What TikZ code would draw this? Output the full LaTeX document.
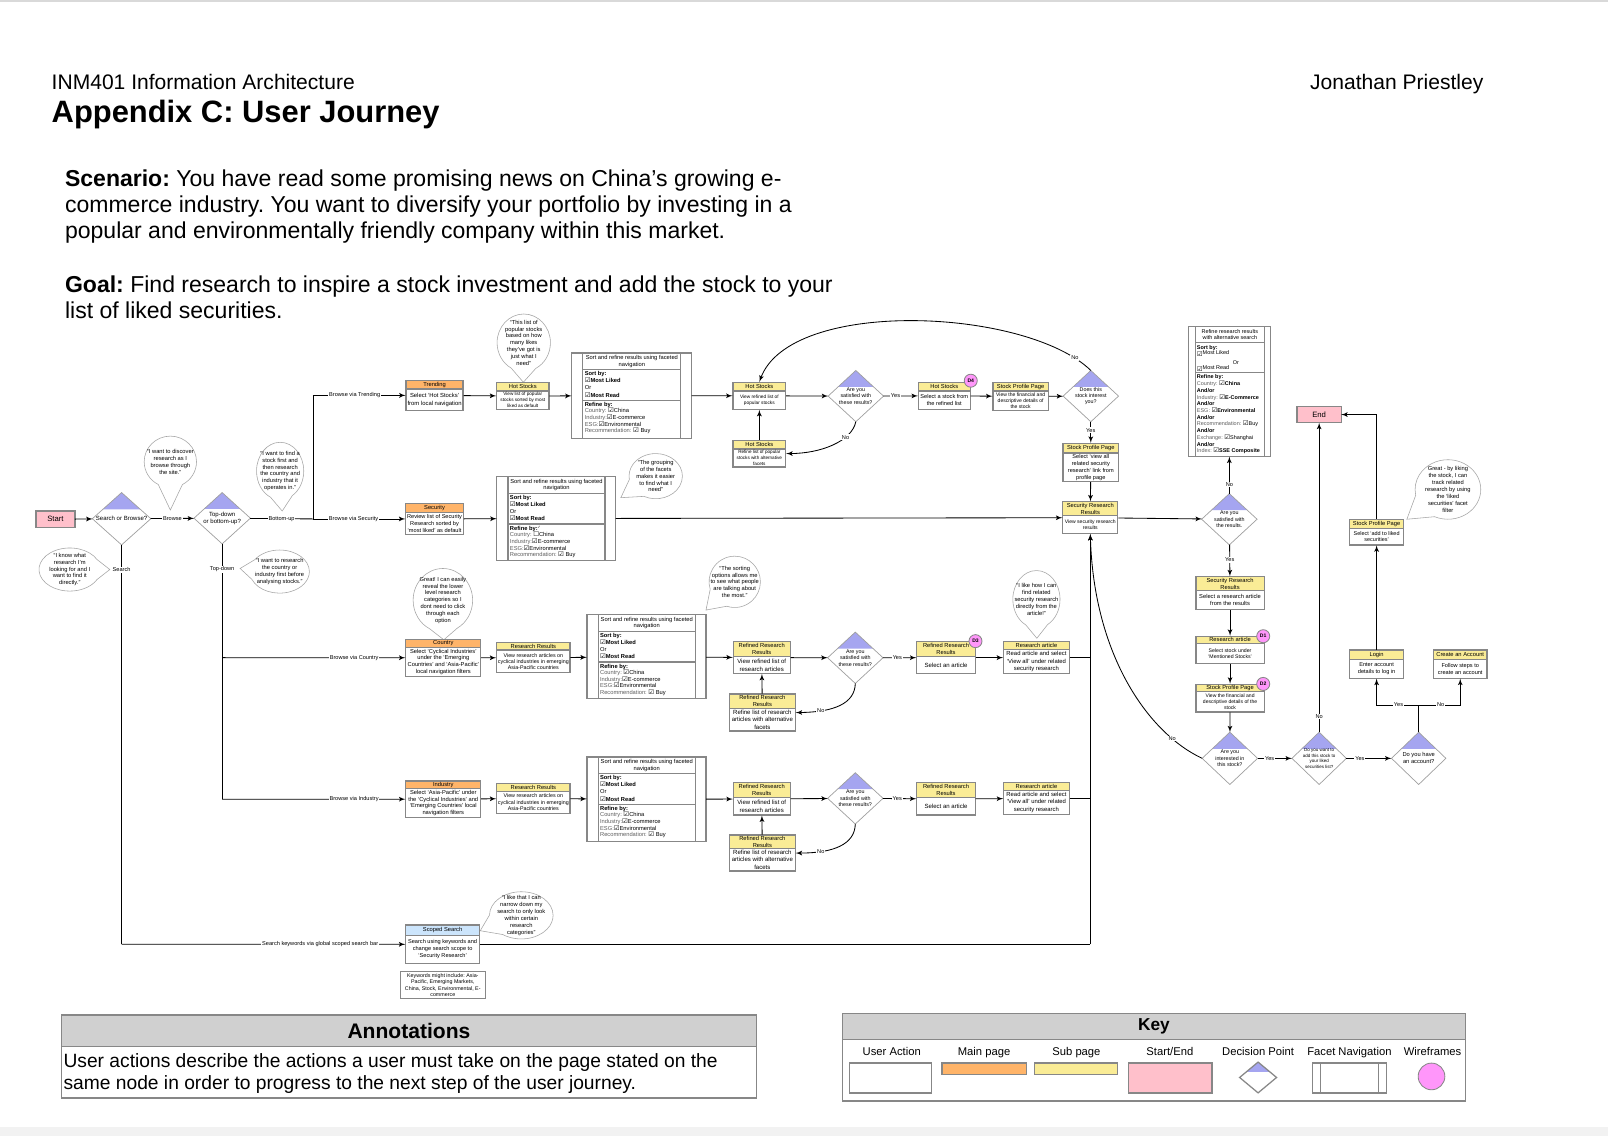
\documentclass[tikz,border=0pt]{standalone}
\usepackage{fontspec}
\setmainfont{Liberation Sans}
\newfontfamily\symfont{DejaVu Sans}
\usetikzlibrary{arrows,fit,positioning,calc,shapes.geometric,shapes.callouts}
\frenchspacing

\definecolor{mainpage}{RGB}{255,180,105}
\definecolor{subpage}{RGB}{250,236,150}
\definecolor{startend}{RGB}{255,192,203}
\definecolor{decblue}{RGB}{165,165,240}
\definecolor{wire}{RGB}{255,150,250}
\definecolor{scoped}{RGB}{204,229,252}
\definecolor{keygray}{RGB}{208,208,208}
\definecolor{edgegray}{RGB}{135,135,135}
\definecolor{labelgray}{RGB}{95,95,95}

\newcommand{\un}{0.0257cm}
\newcommand{\fs}[2]{\fontsize{#1}{#2}\selectfont}
\newcommand{\cb}{{\symfont\fs{4.6}{4.6}☑}}
\newcommand{\ub}{{\symfont\fs{4.6}{4.6}☐}}
\newcommand{\tk}{\raisebox{1.5pt}{\symfont\fs{2.6}{2.6}✓}}
\newcommand{\nk}{}
\newcommand{\flab}[1]{{\color{labelgray}#1}}

% page node: coloured page strip on top of the user action box
\newcommand{\pagebox}[9]{%
  \node[hdr, fill=#4, minimum width=#3*\un, minimum height=#5*\un, anchor=north] (#1h) at #2 {#6};
  \node[act, font=#8, minimum width=#3*\un, minimum height=#7*\un, below=0pt of #1h] (#1b) {#9};
  \node[fit=(#1h)(#1b), inner sep=0pt] (#1) {};
}

\tikzset{
    %Define standard arrow tip
    >=latex',
    %Define style for boxes
    hdr/.style={
           rectangle,
           draw=edgegray, line width=0.9pt,
           inner sep=0pt, outer sep=0pt,
           align=center,
           font=\fs{4.1}{5}},
    act/.style={
           rectangle,
           draw=edgegray, line width=0.9pt,
           fill=white,
           inner sep=0pt, outer sep=0pt,
           align=center},
    startend/.style={
           rectangle,
           draw=edgegray, line width=0.9pt,
           fill=startend,
           inner sep=0pt, outer sep=0pt,
           font=\fs{5.5}{6}},
    decision/.style={
           diamond,
           draw=edgegray!80, line width=0.5pt,
           fill=white,
           inner sep=0pt, outer sep=0pt,
           path picture={\fill[decblue] (path picture bounding box.north)
              -- ($(path picture bounding box.north)!0.64!(path picture bounding box.west)$)
              -- ($(path picture bounding box.north)!0.64!(path picture bounding box.east)$) -- cycle;}},
    dtxt/.style={align=center, inner sep=0pt, font=\fs{3.8}{4.6}},
    facet/.style={
           rectangle,
           draw=edgegray, line width=0.9pt,
           fill=white,
           inner sep=0pt, outer sep=0pt},
    fline/.style={draw=edgegray, line width=0.9pt},
    ftitle/.style={align=center, inner sep=0pt, font=\fs{4.1}{4.9}},
    ftxt/.style={anchor=north west, align=left, inner sep=0pt, font=\fs{4.1}{4.7}},
    thought/.style={
           ellipse callout,
           draw=edgegray!75, line width=0.4pt,
           fill=white,
           inner sep=0pt,
           callout pointer arc=55},
    btxt/.style={align=center, inner sep=0pt, font=\fs{4.1}{4.9}},
    wf/.style={
           circle,
           draw=edgegray, line width=0.6pt,
           fill=wire,
           inner sep=0pt,
           minimum size=12.7*\un,
           font=\bfseries\fs{3.6}{4}},
    note/.style={
           rectangle,
           draw=edgegray, line width=0.7pt,
           fill=white,
           inner sep=0pt,
           align=center,
           font=\fs{3.8}{4.6}},
    keyhead/.style={
           rectangle,
           draw=edgegray, line width=0.9pt,
           fill=keygray,
           inner sep=0pt, outer sep=0pt},
    keybody/.style={
           rectangle,
           draw=edgegray, line width=0.9pt,
           fill=white,
           inner sep=0pt, outer sep=0pt},
    keylbl/.style={anchor=base, inner sep=0pt, font=\fs{8}{9.5}},
    % Define label style on connectors
    lbl/.style={fill=white, inner sep=0.6pt, font=\fs{4}{4.5}}
}

\begin{document}
\begin{tikzpicture}[x=0.0257cm, y=-0.0257cm, line width=0.6pt]
\useasboundingbox (0,0) rectangle (1567,1107);
\fill[white] (0,0) rectangle (1567,1107);
\fill[gray!30] (0,0) rectangle (1567,2);
\fill[gray!10] (0,1098) rectangle (1567,1107);

% heading
\node[anchor=base west, inner sep=0pt, font=\fs{15}{18}] (course) at (50,87) {INM401 Information Architecture};
\node[anchor=base west, inner sep=0pt, font=\bfseries\fs{22}{26}] (title) at (50,119) {Appendix C: User Journey};
\node[anchor=base east, inner sep=0pt, font=\fs{15}{18}] (author) at (1446,87) {Jonathan Priestley};
\node[anchor=north west, align=left, inner sep=0pt, font=\fs{16.4}{18.6}] (scen) at (63,165)
  {\textbf{Scenario:} You have read some promising news on China’s growing e-\\commerce industry. You want to diversify your portfolio by investing in a\\popular and environmentally friendly company within this market.};
\node[anchor=north west, align=left, inner sep=0pt, font=\fs{16.4}{18.6}] (goal) at (63,268)
  {\textbf{Goal:} Find research to inspire a stock investment and add the stock to your\\list of liked securities.};

% thoughts
\node[thought, minimum width=51*\un, minimum height=50*\un, callout absolute pointer={(166,497)},
  label={[btxt]center:{``I want to discover\\research as I\\browse through\\the site.''}}] (b1) at (166,450) {};
\node[thought, minimum width=46*\un, minimum height=56*\un, callout absolute pointer={(275,498)},
  label={[btxt]center:{``I want to find a\\stock first and\\then research\\the country and\\industry that it\\operates in.''}}] (b2) at (273,459) {};
\node[thought, minimum width=60*\un, minimum height=42*\un, callout absolute pointer={(107,555)},
  label={[btxt]center:{``I know what\\research I'm\\looking for and I\\want to find it\\directly.''}}] (b3) at (68,555) {};
\node[thought, minimum width=58*\un, minimum height=42*\un, callout absolute pointer={(234,554)},
  label={[btxt]center:{``I want to research\\the country or\\industry first before\\analysing stocks.''}}] (b4) at (272.5,557) {};
\node[thought, minimum width=52*\un, minimum height=56*\un, callout absolute pointer={(510,372.5)},
  label={[btxt]center:{``This list of\\popular stocks\\based on how\\many likes\\they've got is\\just what I\\need''}}] (b5) at (510.4,334) {};
\node[thought, minimum width=52*\un, minimum height=44*\un, callout absolute pointer={(605,485)},
  label={[btxt]center:{``The grouping\\of the facets\\makes it easier\\to find what I\\need''}}] (b6) at (639,464) {};
\node[thought, minimum width=58*\un, minimum height=62*\un, callout absolute pointer={(432.5,623.5)},
  label={[btxt]center:{Great! I can easily\\reveal the lower\\level research\\categories so I\\dont need to click\\through each\\option}}] (b7) at (431.6,585) {};
\node[thought, minimum width=50*\un, minimum height=50*\un, callout absolute pointer={(688,594.5)},
  label={[btxt]center:{``The sorting\\options allows me\\to see what people\\are talking about\\the most.''}}] (b8) at (716,567) {};
\node[thought, minimum width=46*\un, minimum height=56*\un, callout absolute pointer={(1010.4,622)},
  label={[btxt]center:{``I like how I can\\find related\\security research\\directly from the\\article!''}}] (b9) at (1010,584) {};
\node[thought, minimum width=62*\un, minimum height=46*\un, callout absolute pointer={(468,907)},
  label={[btxt]center:{``I like that I can\\narrow down my\\search to only look\\within certain\\research\\categories''}}] (b10) at (508,892) {};
\node[thought, minimum width=64*\un, minimum height=58*\un, callout absolute pointer={(1371,506)},
  label={[btxt]center:{Great - by liking\\the stock, I can\\track related\\research by using\\the `liked\\securities' facet\\filter}}] (b11) at (1411,477) {};

% start, end and decisions
\node[startend, minimum width=38*\un, minimum height=16*\un] (start) at (54,506) {Start};
\node[startend, minimum width=43*\un, minimum height=16*\un] (finish) at (1285.5,404) {End};
\node[decision, minimum width=57*\un, minimum height=51*\un, label={[dtxt, font=\fs{4.3}{5}]center:{Search or Browse?}}] (d1) at (118.5,505.5) {};
\node[decision, minimum width=55*\un, minimum height=50*\un, label={[dtxt, font=\fs{4.3}{5.3}]center:{Top-down\\or bottom-up?}}] (d2) at (216.5,505) {};
\node[decision, minimum width=54*\un, minimum height=50*\un, label={[dtxt]center:{Are you\\satisfied with\\these results?}}] (ds1) at (834,386) {};
\node[decision, minimum width=54*\un, minimum height=50*\un, label={[dtxt]center:{Does this\\stock interest\\you?}}] (di1) at (1063,386) {};
\node[decision, minimum width=54*\un, minimum height=50*\un, label={[dtxt]center:{Are you\\satisfied with\\the results.}}] (ds2) at (1198,506) {};
\node[decision, minimum width=54*\un, minimum height=50*\un, label={[dtxt]center:{Are you\\satisfied with\\these results?}}] (ds3) at (833.5,641) {};
\node[decision, minimum width=54*\un, minimum height=50*\un, label={[dtxt]center:{Are you\\satisfied with\\these results?}}] (ds4) at (833.5,778) {};
\node[decision, minimum width=54*\un, minimum height=51*\un, label={[dtxt]center:{Are you\\interested in\\this stock?}}] (di2) at (1198.5,739) {};
\node[decision, minimum width=53*\un, minimum height=51*\un, label={[dtxt, font=\fs{3.2}{3.9}]center:{Do you want to\\add this stock to\\your liked\\securities list?}}] (dad) at (1285.5,739) {};
\node[decision, minimum width=53*\un, minimum height=51*\un, label={[dtxt, font=\fs{4.1}{5}]center:{Do you have\\an account?}}] (dac) at (1382.5,739) {};

% pages
\pagebox{tr}{(423.5,370.5)}{55.6}{mainpage}{8.6}{Trending}{21}{\fs{4.2}{5.8}}{Select `Hot Stocks'\\from local navigation}
\pagebox{hsa}{(509.5,373)}{51}{subpage}{8}{Hot Stocks}{18}{\fs{3.3}{4.2}}{View list of popular\\stocks sorted by most\\liked as default}
\pagebox{hsb}{(740,372.5)}{51.5}{subpage}{8.5}{Hot Stocks}{18}{\fs{3.4}{4.5}}{View refined list of\\popular stocks}
\pagebox{hsc}{(740,429)}{51.5}{subpage}{8.6}{Hot Stocks}{17.4}{\fs{3.3}{4.2}}{Refine list of popular\\stocks with alternative\\facets}
\pagebox{hsd}{(920.2,372.5)}{50.5}{subpage}{8.5}{Hot Stocks}{18}{\fs{4}{5.2}}{Select a stock from\\the refined list}
\pagebox{spa}{(994.6,372.5)}{54}{subpage}{8.5}{Stock Profile Page}{19}{\fs{3.6}{4.4}}{View the financial and\\descriptive details of\\the stock}
\pagebox{spb}{(1063,432)}{54.3}{subpage}{9.5}{Stock Profile Page}{28}{\fs{4}{4.9}}{Select `view all\\related security\\research' link from\\profile page}
\pagebox{sra}{(1062.5,489)}{53.7}{subpage}{13}{Security Research\\Results}{18}{\fs{3.6}{4.5}}{View security research\\results}
\pagebox{sec}{(423.5,490.6)}{56.2}{mainpage}{9}{Security}{21.2}{\fs{4}{4.9}}{Review list of Security\\Research sorted by\\`most liked' as default}
\pagebox{srb}{(1198.7,562)}{66.6}{subpage}{13.7}{Security Research\\Results}{18.2}{\fs{4.1}{5.3}}{Select a research article\\from the results}
\pagebox{raa}{(1198.7,620)}{66.6}{subpage}{7.2}{Research article}{19.5}{\fs{3.7}{4.6}}{Select stock under\\`Mentioned Stocks'}
\pagebox{spc}{(1198.7,666.7)}{66.6}{subpage}{7.5}{Stock Profile Page}{19.6}{\fs{3.6}{4.3}}{View the financial and\\descriptive details of the\\stock}
\pagebox{login}{(1341.5,633.5)}{53}{subpage}{9}{Login}{18.5}{\fs{4}{5}}{Enter account\\details to log in}
\pagebox{acct}{(1423,633.5)}{52}{subpage}{9}{Create an Account}{18.5}{\fs{4}{5}}{Follow steps to\\create an account}
\pagebox{spd}{(1341.5,506)}{53}{subpage}{8.7}{Stock Profile Page}{16.3}{\fs{3.9}{4.9}}{Select `add to liked\\securities'}
\pagebox{cty}{(432,623)}{73}{mainpage}{8}{Country}{28}{\fs{4.1}{4.8}}{Select `Cyclical Industries'\\under the `Emerging\\Countries' and `Asia-Pacific'\\local navigation filters}
\pagebox{rra}{(519.75,626.4)}{71.5}{subpage}{7.1}{Research Results}{22.2}{\fs{3.8}{4.5}}{View research articles on\\cyclical industries in emerging\\Asia-Pacific countries}
\pagebox{rfa}{(742.3,625.4)}{55.5}{subpage}{14.6}{Refined Research\\Results}{16.3}{\fs{4.3}{5.5}}{View refined list of\\research articles}
\pagebox{rsa}{(921.9,625.4)}{57}{subpage}{14.6}{Refined Research\\Results}{16.3}{\fs{4.3}{5.5}}{Select an article}
\pagebox{rab}{(1010,625.4)}{64}{subpage}{7.6}{Research article}{23.3}{\fs{4.2}{5.2}}{Read article and select\\`View all' under related\\security research}
\pagebox{rla}{(742.9,676.4)}{64.2}{subpage}{14}{Refined Research\\Results}{22}{\fs{4.3}{5.3}}{Refine list of research\\articles with alternative\\facets}
\pagebox{ind}{(432,761)}{73}{mainpage}{7.4}{Industry}{28.2}{\fs{4.1}{4.8}}{Select `Asia-Pacific' under\\the `Cyclical Industries' and\\`Emerging Countries' local\\navigation filters}
\pagebox{rrb}{(519.75,763.5)}{71.5}{subpage}{7.5}{Research Results}{21.7}{\fs{3.8}{4.5}}{View research articles on\\cyclical industries in emerging\\Asia-Pacific countries}
\pagebox{rfb}{(742.3,762.8)}{55.5}{subpage}{14.2}{Refined Research\\Results}{17.3}{\fs{4.3}{5.5}}{View refined list of\\research articles}
\pagebox{rsb}{(921.9,762.8)}{57}{subpage}{14.2}{Refined Research\\Results}{17.3}{\fs{4.3}{5.5}}{Select an article}
\pagebox{rac}{(1010,762.8)}{64}{subpage}{7.7}{Research article}{23}{\fs{4.2}{5.2}}{Read article and select\\`View all' under related\\security research}
\pagebox{rlb}{(742.9,813.8)}{64.2}{subpage}{13}{Refined Research\\Results}{22}{\fs{4.3}{5.3}}{Refine list of research\\articles with alternative\\facets}
\pagebox{scs}{(431.3,901.5)}{71.8}{scoped}{9.8}{Scoped Search}{27.7}{\fs{4}{5}}{Search using keywords and\\change search scope to\\`Security Research'}
\node[note, minimum width=83*\un, minimum height=26*\un] (kw) at (431.5,960)
  {Keywords might include: Asia-\\Pacific, Emerging Markets,\\China, Stock, Environmental, E-\\commerce};

% wireframe marks
\node[wf] (wd4) at (946,371) {D4};
\node[wf] (wd3) at (950.6,624.8) {D3};
\node[wf] (wd1) at (1231,620) {D1};
\node[wf] (wd2) at (1231,666.5) {D2};

% facet navigation
\node[facet, minimum width=117*\un, minimum height=83*\un] (f1) at (615.5,385.5) {};
\node[facet, minimum width=116*\un, minimum height=81.4*\un] (f2) at (542,505.3) {};
\node[facet, minimum width=116.2*\un, minimum height=81.8*\un] (f3) at (630,640) {};
\node[facet, minimum width=116.2*\un, minimum height=82.6*\un] (f4) at (630,779) {};
\node[facet, minimum width=80*\un, minimum height=127*\un] (f5) at (1198,381.5) {};
\foreach \f/\cc/\xx in {f1/\cb/\nk, f2/\ub/\tk, f3/\cb/\nk, f4/\cb/\nk}{
  \draw[fline] ($(\f.north west)+(11,0)$) -- ($(\f.south west)+(11,0)$);
  \draw[fline] ($(\f.north east)+(-10.5,0)$) -- ($(\f.south east)+(-10.5,0)$);
  \draw[fline] ($(\f.north west)+(11,16)$) -- ($(\f.north east)+(-10.5,16)$);
  \draw[fline] ($(\f.north west)+(11,46)$) -- ($(\f.north east)+(-10.5,46)$);
  \node[ftitle] (\f-t) at ($(\f.north)+(0.25,8)$) {Sort and refine results using faceted\\navigation};
  \node[ftxt, font=\fs{4.1}{5.1}] (\f-s) at ($(\f.north west)+(12.5,17.5)$)
    {\textbf{Sort by:}\\\cb\textbf{Most Liked}\\Or\\\cb\textbf{Most Read}};
  \node[ftxt] (\f-r) at ($(\f.north west)+(12.5,47.5)$)
    {\textbf{Refine by:}\xx\\\flab{Country:} \cc China\\\flab{Industry:}\cb E-commerce\\\flab{ESG:}\cb Environmental\\\flab{Recommendation:} \cb\ Buy};
}
\draw[fline] ($(f5.north west)+(7,0)$) -- ($(f5.south west)+(7,0)$);
\draw[fline] ($(f5.north east)+(-6,0)$) -- ($(f5.south east)+(-6,0)$);
\draw[fline] ($(f5.north west)+(7,16)$) -- ($(f5.north east)+(-6,16)$);
\draw[fline] ($(f5.north west)+(7,45)$) -- ($(f5.north east)+(-6,45)$);
\node[ftitle, font=\fs{3.9}{4.6}] (f5-t) at ($(f5.north)+(0.5,8)$) {Refine research results\\with alternative search};
\node[ftxt, font=\fs{3.9}{5.4}] (f5-s) at ($(f5.north west)+(8,18)$)
  {\textbf{Sort by:}\\\cb\raisebox{1.5pt}{Most Liked}\\\hspace*{0.9cm}Or\\\cb\raisebox{1.5pt}{Most Read}};
\node[ftxt, font=\fs{3.9}{4.78}] (f5-r) at ($(f5.north west)+(8,47)$)
  {\textbf{Refine by:}\\\flab{Country:} \cb\textbf{China}\\\textbf{And/or}\\\flab{Industry:} \cb\textbf{E-Commerce}\\\textbf{And/or}\\\flab{ESG:} \cb\textbf{Environmental}\\\textbf{And/or}\\\flab{Recommendation:} \cb Buy\\\textbf{And/or}\\\flab{Exchange:} \cb Shanghai\\\textbf{And/or}\\\flab{Index:} \cb\textbf{SSE Composite}};

% connectors
\coordinate (bus) at (305,505.7);
\coordinate (but) at (305,385.3);
\coordinate (tdc) at (216.5,640.9);
\coordinate (tdi) at (216.5,778.8);
\coordinate (sk) at (118.5,920.2);
\coordinate (acj) at (1382.5,687);
\draw[->] (start) -- (d1);
\draw[->] (d1) -- node[lbl]{Browse} (d2);
\draw (d2) -- node[lbl]{Bottom-up} (bus);
\draw (but) -- (bus);
\draw[->] (but) -- node[lbl,pos=0.45]{Browse via Trending} (tr);
\draw[->] (bus) -- node[lbl,pos=0.44]{Browse via Security} (sec);
\draw (d2) -- node[lbl,pos=0.1]{Top-down} (tdi);
\draw[->] (tdc) -- node[lbl,pos=0.72]{Browse via Country} (cty);
\draw[->] (tdi) -- node[lbl,pos=0.72]{Browse via Industry} (ind);
\draw (d1) -- node[lbl,pos=0.062]{Search} (sk);
\draw[->] (sk) -- node[lbl,pos=0.7]{Search keywords via global scoped search bar} (scs);

\draw[->] (tr) -- (hsa);
\draw[->] (hsa) -- (f1);
\draw[->] (f1) -- (hsb);
\draw[->] (hsb) -- (ds1);
\draw[->] (ds1) -- node[lbl,pos=0.35]{Yes} (hsd);
\draw[->] (hsd) -- (spa);
\draw[->] (spa) -- (di1);
\draw[->] (di1) -- node[lbl,pos=0.4]{Yes} (spb);
\draw[->] (spb) -- (sra);
\draw[->] (hsc) -- (hsb);
\draw[->] (di1.north) .. controls (1000,300) and (770,290) .. node[lbl,pos=0.07]{No} (hsb.north);
\draw[->] (ds1.south) .. controls (830,430) and (800,442) .. node[lbl,pos=0.3]{No} (hsc.east);

\draw[->] (sec) -- (f2);
\draw[->] (f2) -- (sra);
\draw[->] (sra) -- (ds2);
\draw[->] (ds2) -- node[lbl,pos=0.25]{No} (f5);
\draw[->] (ds2) -- node[lbl,pos=0.48]{Yes} (srb);
\draw[->] (srb) -- (raa);
\draw[->] (raa) -- (spc);
\draw[->] (spc) -- (di2);
\draw[->] (di2) -- node[lbl,pos=0.35]{Yes} (dad);
\draw[->] (dad) -- node[lbl,pos=0.3]{Yes} (dac);
\draw[->] (dad) -- node[lbl,pos=0.05]{No} (finish);
\draw[->] (di2.west) .. controls (1120,715) and (1066,640) .. node[lbl,pos=0.19]{No} (sra.south);
\draw (dac) -- (acj);
\draw[->] (acj) -| node[lbl,pos=0.24]{Yes} (login);
\draw[->] (acj) -| node[lbl,pos=0.265]{No} (acct);
\draw[->] (login) -- (spd);
\draw[->] (spd) |- (finish);

\draw[->] (cty) -- (rra);
\draw[->] (rra) -- (f3);
\draw[->] (f3) -- (rfa);
\draw[->] (rfa) -- (ds3);
\draw[->] (ds3) -- node[lbl,pos=0.43]{Yes} (rsa);
\draw[->] (rsa) -- (rab);
\draw[->] (rla) -- (rfa);
\draw[->] (ds3.south) .. controls (833,686) and (812,694) .. node[lbl,pos=0.75]{No} (rla.east);

\draw[->] (ind) -- (rrb);
\draw[->] (rrb) -- (f4);
\draw[->] (f4) -- (rfb);
\draw[->] (rfb) -- (ds4);
\draw[->] (ds4) -- node[lbl,pos=0.43]{Yes} (rsb);
\draw[->] (rsb) -- (rac);
\draw[->] (rlb) -- (rfb);
\draw[->] (ds4.south) .. controls (833,823) and (812,831.4) .. node[lbl,pos=0.75]{No} (rlb.east);

\draw (rab) -- (rab -| sra);
\draw (rac) -- (rac -| sra);
\draw (scs) -- (scs -| sra);
\draw[->] (scs -| sra) -- (sra.south);

% annotations
\node[keyhead, font=\bfseries\fs{15}{18}, minimum width=677*\un, minimum height=31*\un, anchor=north west] (annh) at (60,989) {Annotations};
\node[keybody, minimum width=677*\un, minimum height=50*\un, below=0pt of annh] (annb) {};
\node[anchor=north west, align=left, inner sep=0pt, font=\fs{13.7}{16}] (annt) at (61.5,1026)
  {User actions describe the actions a user must take on the page stated on the\\same node in order to progress to the next step of the user journey.};

% key
\node[keyhead, font=\bfseries\fs{12.3}{14}, minimum width=607*\un, minimum height=25*\un, anchor=north west] (keyh) at (821,988) {Key};
\node[keybody, minimum width=607*\un, minimum height=60*\un, below=0pt of keyh] (keyb) {};
\foreach \x/\t in {869/User Action, 959/Main page, 1049/Sub page, 1140/{Start/End}, 1226/Decision Point, 1315/Facet Navigation, 1396/Wireframes}
  \node[keylbl] (kl\x) at (\x,1029) {\t};
\node[act, minimum width=80*\un, minimum height=29*\un] (kua) at (868,1050.5) {};
\node[hdr, fill=mainpage, minimum width=82*\un, minimum height=11*\un] (kmp) at (959,1041.5) {};
\node[hdr, fill=subpage, minimum width=81*\un, minimum height=11*\un] (ksp) at (1048.5,1041.5) {};
\node[startend, minimum width=81*\un, minimum height=29*\un] (kse) at (1140.5,1050.5) {};
\node[decision, draw=edgegray, line width=0.9pt, minimum width=36*\un, minimum height=30*\un] (kdp) at (1226,1050) {};
\node[facet, minimum width=72*\un, minimum height=29*\un] (kfn) at (1315,1050.5) {};
\draw[fline] ($(kfn.north west)+(8,0)$) -- ($(kfn.south west)+(8,0)$);
\draw[fline] ($(kfn.north east)+(-8,0)$) -- ($(kfn.south east)+(-8,0)$);
\node[wf, minimum size=26*\un] (kwf) at (1395,1049) {};
\end{tikzpicture}
\end{document}
